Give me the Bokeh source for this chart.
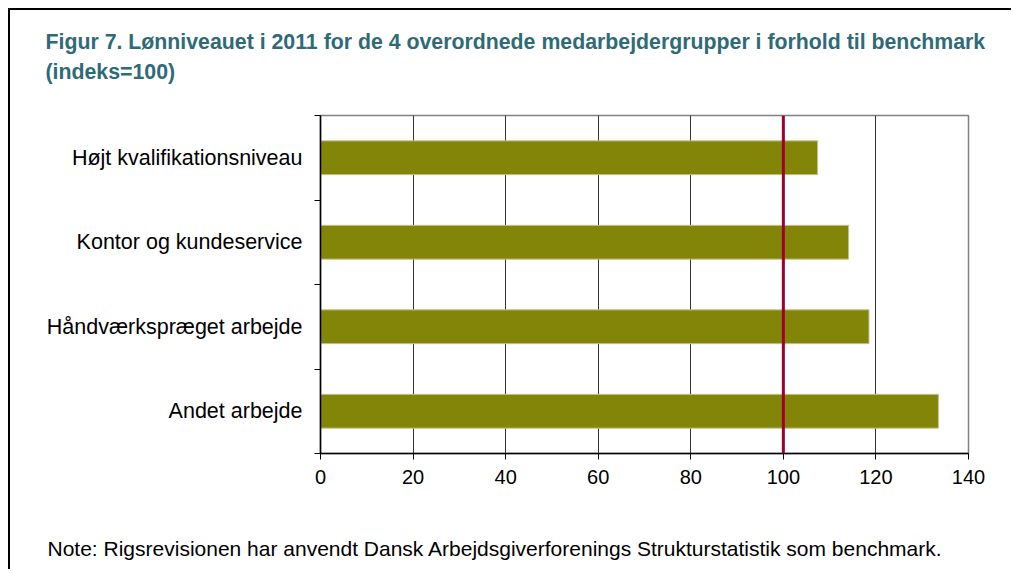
from bokeh.plotting import figure
from bokeh.models import Range1d, FixedTicker, Span, Title, ColumnDataSource
from bokeh.embed import file_html
from bokeh.resources import INLINE

# ---- data ----
categories = ["Højt kvalifikationsniveau", "Kontor og kundeservice",
              "Håndværkspræget arbejde", "Andet arbejde"]
values = [107.4, 114.1, 118.5, 133.5]
benchmark = 100
x_ticks = [0, 20, 40, 60, 80, 100, 120, 140]
title_line1 = "Figur 7. Lønniveauet i 2011 for de 4 overordnede medarbejdergrupper i forhold til benchmark"
title_line2 = "(indeks=100)"
note_text = "Note:  Rigsrevisionen har anvendt Dansk Arbejdsgiverforenings Strukturstatistik som benchmark."

n = len(categories)
ypos = [n - i - 0.5 for i in range(n)]

FONT = "Liberation Sans"
TCOL = "#2E6B77"

p = figure(width=1003, height=561, output_backend="svg", toolbar_location=None,
           x_range=Range1d(0, 140), y_range=Range1d(0, n),
           min_border_left=310, min_border_right=45, min_border_top=105,
           min_border_bottom=116,
           title=Title(text=title_line1 + "\n" + title_line2, align="left",
                       offset=-275, standoff=20, text_font=FONT,
                       text_font_style="bold", text_font_size="21.3px",
                       text_color=TCOL, text_line_height=1.25,
                       padding=dict(left=0, right=0, top=0, bottom=22)))
p.styles = {"margin": "8px 0 0 8px", "border-top": "2px solid black",
            "border-left": "2px solid black"}

src = ColumnDataSource(dict(y=ypos, right=values))
p.hbar(y="y", left=0, right="right", height=0.4, source=src,
       fill_color="#838509", line_color="#C2C38A", line_width=1)

p.add_layout(Span(location=benchmark, dimension="height",
                  line_color="#A0002E", line_width=3))

# axes
p.xaxis.ticker = FixedTicker(ticks=x_ticks)
p.xaxis.major_tick_out = 6
p.xaxis.major_tick_in = 0
p.xaxis.minor_tick_line_color = None
p.xaxis.axis_line_color = "black"
p.xaxis.axis_line_width = 1.5
p.xaxis.major_tick_line_color = "black"
p.xaxis.major_label_text_font = FONT
p.xaxis.major_label_text_font_size = "20px"
p.xaxis.major_label_text_color = "black"
p.xaxis.major_label_standoff = 10

p.yaxis.ticker = FixedTicker(ticks=ypos, minor_ticks=list(range(n + 1)))
p.yaxis.major_label_overrides = {y: c for y, c in zip(ypos, categories)}
p.yaxis.major_tick_out = 0
p.yaxis.major_tick_in = 0
p.yaxis.minor_tick_out = 6
p.yaxis.minor_tick_in = 0
p.yaxis.minor_tick_line_color = "black"
p.yaxis.axis_line_color = "black"
p.yaxis.axis_line_width = 1.5
p.yaxis.major_label_text_font = FONT
p.yaxis.major_label_text_font_size = "21.5px"
p.yaxis.major_label_text_color = "black"
p.yaxis.major_label_standoff = 12

p.xgrid.ticker = FixedTicker(ticks=x_ticks)
p.xgrid.grid_line_color = "#333333"
p.xgrid.grid_line_width = 1
p.ygrid.grid_line_color = None

p.outline_line_color = "#808080"
p.outline_line_width = 1.5

# note below the chart
p.add_layout(Title(text=note_text, align="left", offset=-273, standoff=24,
                   text_font=FONT, text_font_style="normal",
                   text_font_size="21px", text_color="black",
                   padding=dict(left=0, right=0, top=36, bottom=0)), "below")

open("out.html", "w").write(file_html(p, INLINE))
